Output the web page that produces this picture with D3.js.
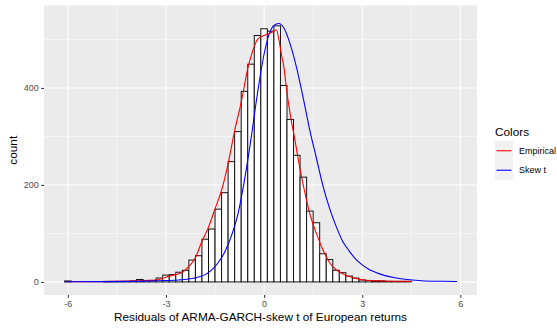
<!DOCTYPE html>
<html><head><meta charset="utf-8">
<script src="https://cdn.jsdelivr.net/npm/d3@7/dist/d3.min.js"></script>
<style>body{margin:0;background:#fff}svg{display:block}text{font-family:"Liberation Sans",Arial,Helvetica,sans-serif}</style>
</head><body><svg id="c" width="557" height="329"></svg>
<script>
// ---- data ----
const binWidth = 0.2;
const binCenters = [-6.0,-5.8,-5.6,-5.4,-5.2,-5.0,-4.8,-4.6,-4.4,-4.2,-4.0,-3.8,-3.6,-3.4,-3.2,-3.0,-2.8,-2.6,-2.4,-2.2,-2.0,-1.8,-1.6,-1.4,-1.2,-1.0,-0.8,-0.6,-0.4,-0.2,0.0,0.2,0.4,0.6,0.8,1.0,1.2,1.4,1.6,1.8,2.0,2.2,2.4,2.6,2.8,3.0,3.2,3.4,3.6,3.8,4.0,4.2,4.4];
const binCounts  = [2,0,0,0,0,0,1,1,1,1,2,5,3,3,8,14,15,20,24,45,54,88,109,150,184,248,310,393,449,508,522,517,528,405,335,261,216,146,122,58,46,24,19,12,8,4,3,2,2,1,1,1,1];
const empiricalX = [-6.08,-5.5,-5.0,-4.5,-4.0,-3.6,-3.3,-3.1,-2.9,-2.7,-2.5,-2.3,-2.1,-1.9,-1.7,-1.5,-1.3,-1.1,-0.9,-0.7,-0.5,-0.35,-0.2,0.0,0.15,0.3,0.38,0.45,0.55,0.6,0.7,0.8,0.95,1.1,1.25,1.4,1.6,1.8,2.0,2.2,2.4,2.6,2.9,3.2,3.6,4.0,4.5];
const empiricalY = [1,0.5,0.6,1,2,3,4,7,12,15,20,32,50,84,113,151,189,244,312,370,440,476,500,508,512,517,520,500,462,445,390,345,290,232,183,140,100,66,40,25,17,11,5.5,3,2,1.5,1];
const skewTX = [-6.08,-5.0,-4.0,-3.5,-3.0,-2.6,-2.2,-2.0,-1.8,-1.6,-1.4,-1.2,-1.0,-0.8,-0.6,-0.4,-0.2,0.0,0.15,0.3,0.45,0.6,0.8,1.0,1.2,1.4,1.6,1.8,2.0,2.2,2.4,2.6,2.8,3.0,3.2,3.4,3.7,4.0,4.3,4.8,5.4,5.9];
const skewTY = [0.3,0.5,1,1.8,2.8,4,7,10,15,25,40,62,95,140,210,295,390,470,510,529,533,524,490,440,378,312,255,198,152,115,84,64,47,35,26,20,13,8.5,5.5,2.5,1.3,0.8];
const xTicks = [-6,-3,0,3,6];
const xMinor = [-4.5,-1.5,1.5,4.5];
const yTicks = [0,200,400];
const yMinor = [100,300,500];
const seriesNames = ["Empirical","Skew t"];
const seriesColors = ["#FF0000","#0000FF"];

// ---- layout ----
const P = {l:44, r:477, t:5.5, b:295};
const x = d3.scaleLinear().domain([-6.73,6.51]).range([P.l,P.r]);
const y = d3.scaleLinear().domain([-27,570]).range([P.b,P.t]);
const svg = d3.select("#c");

svg.append("rect").attr("x",P.l).attr("y",P.t).attr("width",P.r-P.l).attr("height",P.b-P.t).attr("fill","#EBEBEB");
const g = svg.append("g");
g.selectAll(".xm").data(xMinor).join("line").attr("x1",d=>x(d)).attr("x2",d=>x(d)).attr("y1",P.t).attr("y2",P.b).attr("stroke","#fff").attr("stroke-width",0.53);
g.selectAll(".ym").data(yMinor).join("line").attr("y1",d=>y(d)).attr("y2",d=>y(d)).attr("x1",P.l).attr("x2",P.r).attr("stroke","#fff").attr("stroke-width",0.53);
g.selectAll(".xM").data(xTicks).join("line").attr("x1",d=>x(d)).attr("x2",d=>x(d)).attr("y1",P.t).attr("y2",P.b).attr("stroke","#fff").attr("stroke-width",1.07);
g.selectAll(".yM").data(yTicks).join("line").attr("y1",d=>y(d)).attr("y2",d=>y(d)).attr("x1",P.l).attr("x2",P.r).attr("stroke","#fff").attr("stroke-width",1.07);

// bars
const bins = binCenters.map((c,i)=>({c, n:binCounts[i]}));
svg.append("g").selectAll("rect").data(bins).join("rect")
  .attr("x",d=>x(d.c-binWidth/2)).attr("width",d=>x(d.c+binWidth/2)-x(d.c-binWidth/2))
  .attr("y",d=>y(d.n)).attr("height",d=>y(0)-y(d.n))
  .attr("fill","#fff").attr("stroke","#111").attr("stroke-width",1);

const line = d3.line().x(d=>x(d[0])).y(d=>y(d[1])).curve(d3.curveMonotoneX);
svg.append("path").attr("d",line(d3.zip(empiricalX,empiricalY))).attr("fill","none").attr("stroke",seriesColors[0]).attr("stroke-width",1.1);
svg.append("path").attr("d",line(d3.zip(skewTX,skewTY))).attr("fill","none").attr("stroke",seriesColors[1]).attr("stroke-width",1.1);

// axes
const xa = svg.append("g").attr("transform",`translate(0,${P.b})`).call(d3.axisBottom(x).tickValues(xTicks).tickSize(2.75).tickPadding(2.5).tickFormat(d3.format("d")));
const ya = svg.append("g").attr("transform",`translate(${P.l},0)`).call(d3.axisLeft(y).tickValues(yTicks).tickSize(2.75).tickPadding(2.5).tickFormat(d3.format("d")));
[xa,ya].forEach(a=>{a.select(".domain").remove();a.selectAll("line").attr("stroke","#333").attr("stroke-width",1.07);
  a.selectAll("text").attr("fill","#4D4D4D").style("font-size","9px").style("font-family","'Liberation Sans',Arial,sans-serif");});
xa.selectAll("text").text(d=>d<0?"-"+Math.abs(d):d);

svg.append("text").attr("x",(P.l+P.r)/2).attr("y",320.5).attr("text-anchor","middle").style("font-size","11.8px").attr("fill","#000").text("Residuals of ARMA-GARCH-skew t of European returns");
svg.append("text").attr("transform",`translate(17,${(P.t+P.b)/2}) rotate(-90)`).attr("text-anchor","middle").style("font-size","11.8px").attr("fill","#000").text("count");

// legend
const L = svg.append("g");
L.append("text").attr("x",495).attr("y",136).style("font-size","11.8px").attr("fill","#000").text("Colors");
seriesNames.forEach((s,i)=>{
  const ky = 141 + i*19.5;
  L.append("rect").attr("x",495).attr("y",ky).attr("width",18).attr("height",19.5).attr("fill","#F2F2F2");
  L.append("line").attr("x1",496.5).attr("x2",511.5).attr("y1",ky+9.75).attr("y2",ky+9.75).attr("stroke",seriesColors[i]).attr("stroke-width",1.1);
  L.append("text").attr("x",519).attr("y",ky+9.75).attr("dy","0.35em").style("font-size","9px").attr("fill","#000").text(s);
});
</script></body></html>
